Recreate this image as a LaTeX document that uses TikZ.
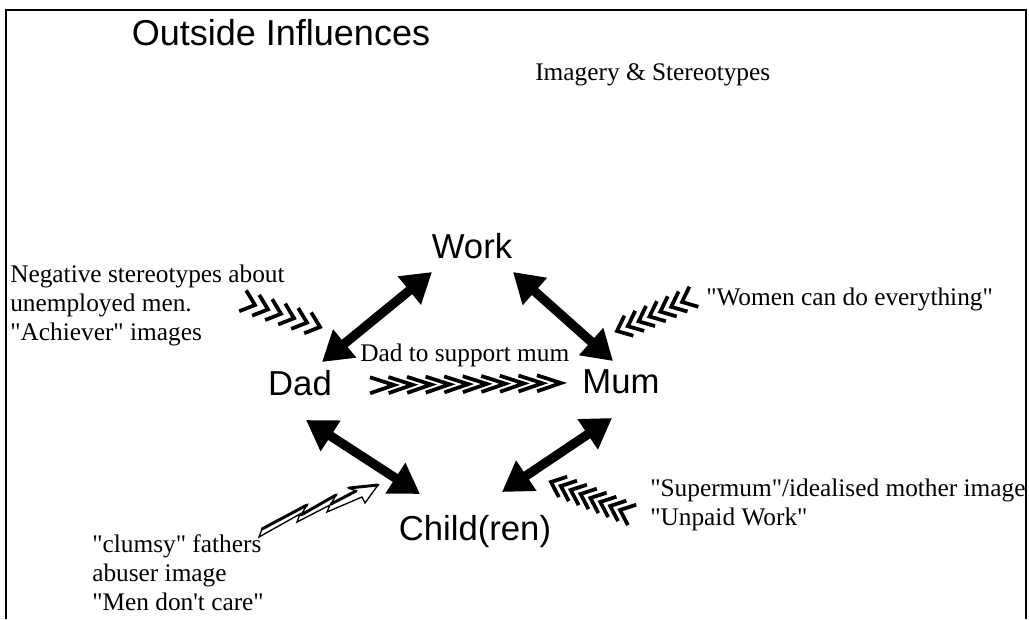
\documentclass[tikz,border=0pt]{standalone}
\usepackage{fontspec}
\setmainfont{Liberation Serif}[Ligatures=TeXOff]
\newfontfamily\labelfont{Liberation Sans}
\usetikzlibrary{arrows.meta}

\begin{document}
\begin{tikzpicture}[x=0.75pt,y=-0.75pt,
  frame/.style={line width=1.5pt},
  title/.style={font=\labelfont\fontsize{27}{30}\selectfont, anchor=base, inner sep=0},
  role/.style={font=\labelfont\fontsize{26}{30}\selectfont, anchor=base, inner sep=0},
  note/.style={font=\fontsize{19}{21.4}\selectfont, align=left, anchor=base west, inner sep=0},
  link/.style={line width=7pt,
    {Triangle[length=22pt,width=26pt]}-{Triangle[length=22pt,width=26pt]}},
  chevstroke/.style={line width=2.8pt, line cap=butt, line join=miter},
  pics/chevron/.style 2 args={code={\draw[chevstroke] (-#1,-#2) -- (0,0) -- (-#1,#2);}},
  bolt/.style={line width=1pt, line join=miter, fill=white},
  boltedge/.style={line width=2.2pt, line cap=round},
]
\useasboundingbox (0,0) rectangle (1029,619);
\fill[white] (0,0) rectangle (1029,619);

% open frame
\draw[frame] (6,619) -- (6,10) -- (1026,10) -- (1026,619);

% headings
\node[title] (heading) at (281,45) {Outside Influences};
\node[note] (imagery) at (535,80) {Imagery \& Stereotypes};

% family members and work
\node[role] (work)  at (472,258) {Work};
\node[role] (dad)   at (300,395) {Dad};
\node[role] (mum)   at (621,393) {Mum};
\node[role] (child) at (475,540) {Child(ren)};

% two-way relations
\draw[link] ([shift={(22,-33)}]dad.base)  -- ([shift={(-40,14)}]work.base);
\draw[link] ([shift={(41,14)}]work.base)  -- ([shift={(-8,-32)}]mum.base);
\draw[link] ([shift={(6,25)}]dad.base)    -- ([shift={(-55,-46)}]child.base);
\draw[link] ([shift={(-9,25)}]mum.base)   -- ([shift={(27,-48)}]child.base);

% influence labels (a multi-line node sits on the baseline of its last line)
\node[note] (negative) at (10,340)
  {Negative stereotypes about\\unemployed men.\\"Achiever" images};
\node[note] (support) at (360,361) {Dad to support mum};
\node[note] (women) at (706,305) {"Women can do everything"};
\node[note] (supermum) at (650,525)
  {"Supermum"/idealised mother image\\"Unpaid Work"};
\node[note] (clumsy) at (92,610)
  {"clumsy" fathers\\abuser image\\"Men don't care"};

% feathered influence arrows: a row of chevrons from first tip to last tip
\newcommand\chevrons[5]{%
  \foreach \k [evaluate=\k as \t using (\k-1)/(#3-1)] in {1,...,#3}{
    \path (#1) -- (#2) pic[pos=\t, sloped, allow upside down]{chevron={#4}{#5}};
  }}
\coordinate (negA) at (255,305);  \coordinate (negB) at (320,327);
\coordinate (supA) at (394,385);  \coordinate (supB) at (561,383);
\coordinate (womA) at (682,302);  \coordinate (womB) at (617,331);
\coordinate (sumA) at (620,510);  \coordinate (sumB) at (551,482);
\chevrons{negA}{negB}{6}{13}{11}
\chevrons{supA}{supB}{10}{24}{8}
\chevrons{womA}{womB}{7}{13}{11}
\chevrons{sumA}{sumB}{8}{13}{11}

% hollow zig-zag arrow towards the child
\draw[bolt] (259,537) -- (262,529) -- (307,505) -- (301,515) -- (336,495)
  -- (331,504) -- (356,491) -- (349,488) -- (378,485) -- (365,503)
  -- (362,497) -- (327,512) -- (330,505) -- (297,522) -- (300,514) -- cycle;
\draw[boltedge] (262,529) -- (307,505) (301,515) -- (336,495)
  (331,504) -- (356,491) (349,488) -- (378,485);
\end{tikzpicture}
\end{document}
